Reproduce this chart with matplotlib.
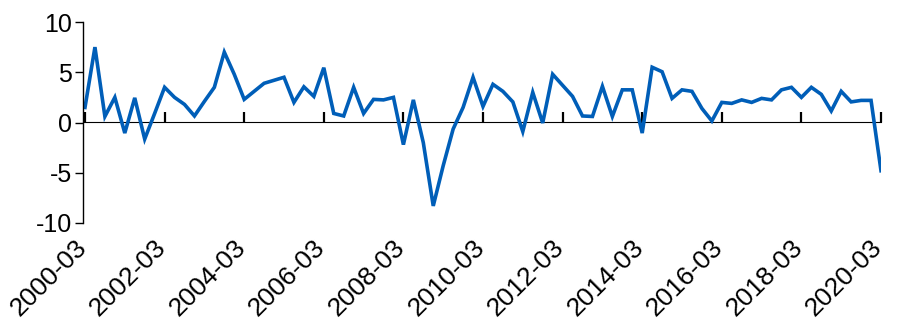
import matplotlib
matplotlib.use("Agg")
from matplotlib import pyplot as plt
from matplotlib.transforms import ScaledTranslation
import numpy as np
import pandas as pd

# quarterly growth, 2000-03 .. 2020-03
periods = pd.period_range("2000Q1", "2020Q1", freq="Q")
growth = [1.5, 7.5, 0.6, 2.5, -1.05, 2.45, -1.65, 0.9, 3.5, 2.5,
          1.8, 0.65, 2.1, 3.5, 7.0, 4.8, 2.3, 3.1, 3.9, 4.2,
          4.5, 2.0, 3.55, 2.6, 5.45, 0.9, 0.65, 3.5, 0.9, 2.3,
          2.25, 2.5, -2.2, 2.25, -2.0, -8.3, -4.3, -0.65, 1.5, 4.5,
          1.6, 3.8, 3.1, 2.05, -0.9, 3.0, -0.05, 4.8, 3.7, 2.6,
          0.65, 0.6, 3.6, 0.6, 3.25, 3.25, -1.05, 5.5, 5.05, 2.4,
          3.25, 3.1, 1.4, 0.15, 2.0, 1.9, 2.25, 2.0, 2.4, 2.25,
          3.25, 3.5, 2.5, 3.5, 2.8, 1.15, 3.1, 2.05, 2.2, 2.2,
          -4.8]
labels = ["%d-03" % p.year for p in periods if p.quarter == 1 and p.year % 2 == 0]

plt.rcParams['font.family'] = ['Liberation Sans', 'DejaVu Sans']
plt.rcParams['axes.unicode_minus'] = False

fig = plt.figure(figsize=(8.97, 3.26), dpi=100)
ax = fig.add_axes([83 / 897, 1 - 223 / 326, (881 - 83) / 897, 201 / 326])

x = np.arange(len(growth))
ax.plot(x, growth, color="#005EB8", linewidth=2.6, solid_joinstyle="miter")

ax.set_xlim(-0.2, len(growth) - 1)
ax.set_ylim(-10, 10)
ax.set_yticks([-10, -5, 0, 5, 10])
ax.tick_params(axis="y", labelsize=18, length=6, width=1, pad=2)

for s in ["top", "right", "bottom"]:
    ax.spines[s].set_visible(False)
ax.spines["left"].set_linewidth(1)

# labels along the bottom, ticks on the zero line
tick_pos = x[::8]
ax.set_xticks(tick_pos)
ax.set_xticklabels(labels, rotation=45, ha="right", fontsize=19)
ax.tick_params(axis="x", length=0, pad=9)
shift = ScaledTranslation(6 / 100, 0, fig.dpi_scale_trans)
for lab in ax.get_xticklabels():
    lab.set_transform(lab.get_transform() + shift)

zero = ax.secondary_xaxis(0.5)
zero.set_xticks(tick_pos)
zero.set_xticklabels([])
zero.tick_params(axis="x", length=7, width=1.6, direction="out")
zero.spines["bottom"].set_linewidth(1.5)

plt.savefig("out.png", dpi=100)
